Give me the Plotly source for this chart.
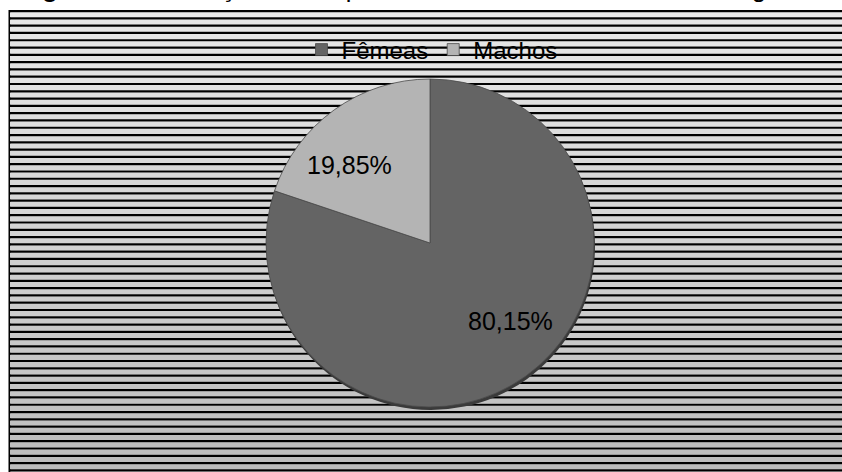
import math
import plotly.graph_objects as go

# ---- data ----
labels = ["Fêmeas", "Machos"]
values = [80.15, 19.85]
colors = ["#646464", "#b4b4b4"]
title_text = "<b>Figura 6</b> Distribuição de frequência de fêmeas e machos de Eugerres"

W, H = 842, 472

def py(p):  # pixel y -> paper y
    return 1 - p / H

def px(p):
    return p / W

# pie geometry in pixels (style)
cx, cy, r = 430, 243, 164
shadow = 3
label_dist = 112      # px from centre for the percentage labels
label_shift = -10     # degrees, Excel-like label placement

fig = go.Figure()

# shadow pie (behind)
fig.add_trace(go.Pie(
    labels=labels, values=values, sort=False, direction="clockwise", rotation=0,
    marker=dict(colors=["#3a3a3a", "#3a3a3a"], line=dict(width=0)),
    textinfo="none", hoverinfo="skip", showlegend=False,
    domain=dict(x=[px(cx - r + 1), px(cx + r + 1)], y=[py(cy + r + shadow), py(cy - r + shadow)]),
))

fig.add_trace(go.Pie(
    labels=labels, values=values, sort=False, direction="clockwise", rotation=0,
    marker=dict(colors=colors, line=dict(width=0.8, color="#4a4a4a")),
    textinfo="none",
    domain=dict(x=[px(cx - r), px(cx + r)], y=[py(cy + r), py(cy - r)]),
))

# percentage labels placed along each slice's bisector
annotations = []
total = sum(values)
cum = 0.0
for v in values:
    mid = (cum + v / 2) / total * 360 + label_shift
    cum += v
    lx = cx + label_dist * math.sin(math.radians(mid))
    ly = cy - label_dist * math.cos(math.radians(mid))
    annotations.append(dict(text=f"{v:.2f}%".replace(".", ","), xref="paper", yref="paper",
                            x=px(lx), y=py(ly), xanchor="center", yanchor="middle", showarrow=False,
                            font=dict(family="Liberation Sans, Arial", size=25, color="#000000")))

annotations.append(dict(text=title_text, xref="paper", yref="paper", x=px(17), y=py(5.5),
                        xanchor="left", yanchor="bottom", showarrow=False,
                        font=dict(family="Liberation Sans, Arial", size=26, color="#000000")))

# striped background
shapes = []
x0 = px(10)
shapes.append(dict(type="rect", xref="paper", yref="paper", x0=px(8.5), x1=px(10.5),
                   y0=0, y1=py(10), fillcolor="#000000", line=dict(width=0), layer="below"))
period = 7.29
n = 64
for k in range(n):
    top = 10 + k * period
    t = k / (n - 1)
    g = int(round(0xe8 + (0xbc - 0xe8) * t))
    col = "#%02x%02x%02x" % (g, g, g)
    shapes.append(dict(type="rect", xref="paper", yref="paper", x0=x0, x1=1,
                       y0=py(min(top + period, H)), y1=py(top + 2.2),
                       fillcolor=col, line=dict(width=0), layer="below"))
    shapes.append(dict(type="rect", xref="paper", yref="paper", x0=x0, x1=1,
                       y0=py(top + 2.2), y1=py(top),
                       fillcolor="#000000", line=dict(width=0), layer="below"))

fig.update_layout(
    width=W, height=H,
    margin=dict(l=0, r=0, t=0, b=0),
    paper_bgcolor="#ffffff",
    plot_bgcolor="rgba(0,0,0,0)",
    shapes=shapes,
    showlegend=True,
    legend=dict(orientation="h", x=px(432), xanchor="center", y=py(50), yanchor="middle",
                bgcolor="rgba(0,0,0,0)", font=dict(family="Liberation Sans, Arial", size=24, color="#000000"),
                itemclick=False),
    annotations=annotations,
)

fig.write_html("out.html")
